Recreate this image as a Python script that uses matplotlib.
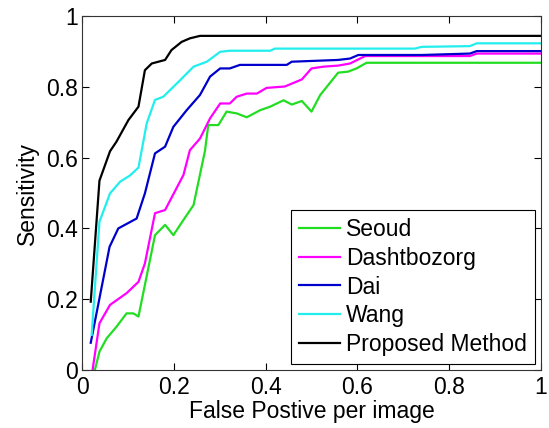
import numpy as np
from matplotlib import pyplot as plt

plt.rcParams['font.family'] = ['Liberation Sans', 'DejaVu Sans']

# False positive per image / sensitivity
seoud_fp = [0.028, 0.038, 0.054, 0.075, 0.097, 0.112, 0.123, 0.159, 0.181, 0.199, 0.221, 0.243,
            0.268, 0.275, 0.297, 0.315, 0.337, 0.359, 0.388, 0.41, 0.439, 0.457, 0.479, 0.5,
            0.519, 0.558, 0.58, 0.598, 0.62, 1.0]
seoud_sens = [0.0, 0.052, 0.09, 0.122, 0.16, 0.16, 0.151, 0.381, 0.41, 0.381, 0.424, 0.466,
              0.62, 0.692, 0.692, 0.73, 0.725, 0.714, 0.734, 0.744, 0.762, 0.75, 0.76, 0.73,
              0.777, 0.84, 0.843, 0.852, 0.868, 0.868]

dasht_fp = [0.023, 0.038, 0.061, 0.097, 0.123, 0.137, 0.159, 0.181, 0.221, 0.235, 0.257, 0.279,
            0.301, 0.322, 0.337, 0.359, 0.381, 0.402, 0.442, 0.479, 0.5, 0.526, 0.558, 0.584,
            0.617, 0.845, 0.86, 1.0]
dasht_sens = [0.0, 0.132, 0.184, 0.217, 0.249, 0.301, 0.443, 0.452, 0.551, 0.621, 0.654, 0.711,
              0.753, 0.753, 0.772, 0.781, 0.781, 0.797, 0.801, 0.821, 0.852, 0.857, 0.86, 0.866,
              0.887, 0.887, 0.894, 0.894]

dai_fp = [0.019, 0.06, 0.079, 0.119, 0.137, 0.159, 0.181, 0.199, 0.228, 0.257, 0.279, 0.301,
          0.322, 0.344, 0.446, 0.457, 0.558, 0.584, 0.602, 0.74, 0.845, 0.86, 1.0]
dai_sens = [0.077, 0.348, 0.4, 0.428, 0.499, 0.612, 0.631, 0.687, 0.734, 0.777, 0.829, 0.852,
            0.852, 0.862, 0.862, 0.871, 0.876, 0.88, 0.89, 0.89, 0.894, 0.901, 0.901]

wang_fp = [0.021, 0.038, 0.061, 0.083, 0.105, 0.123, 0.141, 0.159, 0.177, 0.214, 0.243, 0.272,
           0.301, 0.322, 0.41, 0.42, 0.725, 0.74, 0.845, 0.86, 1.0]
wang_sens = [0.099, 0.419, 0.499, 0.532, 0.55, 0.572, 0.697, 0.763, 0.772, 0.819, 0.857, 0.871,
             0.899, 0.902, 0.902, 0.908, 0.908, 0.913, 0.915, 0.923, 0.923]

prop_fp = [0.019, 0.038, 0.061, 0.075, 0.101, 0.123, 0.137, 0.152, 0.181, 0.195, 0.217, 0.235,
           0.257, 1.0]
prop_sens = [0.193, 0.535, 0.618, 0.645, 0.706, 0.744, 0.847, 0.866, 0.876, 0.904, 0.927, 0.937,
             0.944, 0.944]

fig = plt.figure(figsize=(5.49, 4.28), dpi=100)
ax = fig.add_axes([0.1494, 0.1355, 0.836, 0.827])

lw = 1.6
ax.plot(seoud_fp, seoud_sens, color='#22dd22', lw=lw, label='Seoud')
ax.plot(dasht_fp, dasht_sens, color='#ff00ff', lw=lw, label='Dashtbozorg')
ax.plot(dai_fp, dai_sens, color='#0000cc', lw=lw, label='Dai')
ax.plot(wang_fp, wang_sens, color='#22eeee', lw=lw, label='Wang')
ax.plot(prop_fp, prop_sens, color='black', lw=lw, label='Proposed Method')

ax.set_xlim(0, 1)
ax.set_ylim(0, 1)
ticks = np.arange(0, 1.01, 0.2)
labels = ['0', '0.2', '0.4', '0.6', '0.8', '1']
ax.set_xticks(ticks)
ax.set_xticklabels(labels)
ax.set_yticks(ticks)
ax.set_yticklabels(labels)
ax.tick_params(direction='in', top=True, right=True, length=5, labelsize=16.5, pad=4)
ax.tick_params(axis='y', pad=3)
for s in ax.spines.values():
    s.set_linewidth(0.8)
    s.set_color('#333333')

ax.set_xlabel('False Postive per image', fontsize=16.5, labelpad=1)
ax.set_ylabel('Sensitivity', fontsize=16.5, labelpad=5)

leg = ax.legend(loc='lower right', bbox_to_anchor=(0.987, 0.017), borderaxespad=0,
                fontsize=16.5, fancybox=False, framealpha=1, handlelength=1.8,
                handletextpad=0.25, labelspacing=0.25, borderpad=0.35)
leg.get_frame().set_edgecolor('black')
leg.get_frame().set_linewidth(0.8)

plt.savefig('out.png', dpi=100)
